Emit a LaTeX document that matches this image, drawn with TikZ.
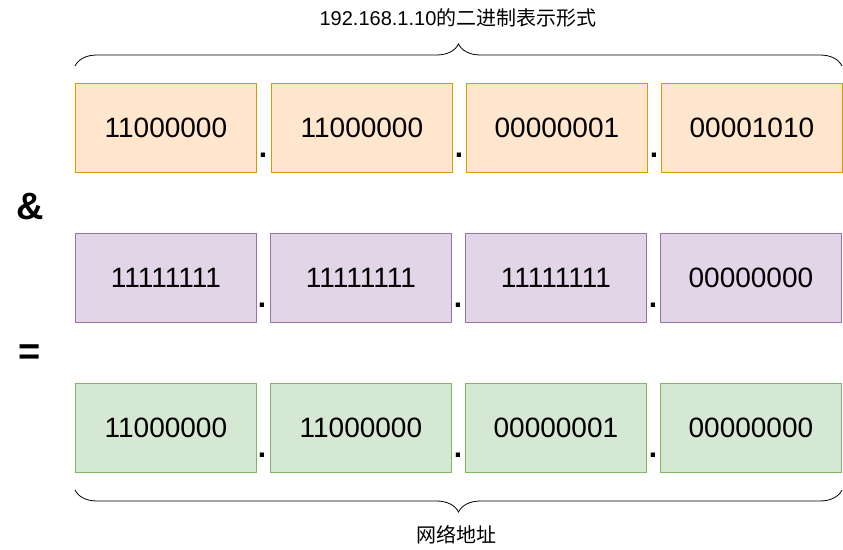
\documentclass[tikz,border=0pt]{standalone}
\usepackage{fontspec}
\setmainfont{Liberation Sans}
\newfontfamily\cjk{Noto Sans CJK SC}
\usetikzlibrary{decorations.pathreplacing}
\begin{document}
\begin{tikzpicture}[x=1pt,y=-1pt,
  cell/.style={draw=#1, line width=0.8pt, minimum width=181pt, minimum height=89pt, anchor=north west, inner sep=0pt, font=\fontsize{28}{32}\selectfont},
  dotmark/.style={font=\fontsize{30}{30}\selectfont\bfseries, inner sep=0pt},
  brace/.style={decorate, decoration={brace, amplitude=22pt, aspect=0.5}, line width=0.8pt}]
\useasboundingbox (0,0) rectangle (843,549);
\definecolor{oF}{HTML}{FFE6CC}\definecolor{oD}{HTML}{D79B00}
\definecolor{pF}{HTML}{E1D5E7}\definecolor{pD}{HTML}{9673A6}
\definecolor{gF}{HTML}{D5E8D4}\definecolor{gD}{HTML}{82B366}
% row 1
\node[cell=oD, fill=oF] (a1) at (75,83) {11000000};
\node[cell=oD, fill=oF] (a2) at (271,83) {11000000};
\node[cell=oD, fill=oF] (a3) at (466,83) {00000001};
\node[cell=oD, fill=oF] (a4) at (661,83) {00001010};
% row 2
\node[cell=pD, fill=pF] (b1) at (75,233) {11111111};
\node[cell=pD, fill=pF] (b2) at (270,233) {11111111};
\node[cell=pD, fill=pF] (b3) at (465,233) {11111111};
\node[cell=pD, fill=pF] (b4) at (660,233) {00000000};
% row 3
\node[cell=gD, fill=gF] (c1) at (75,383) {11000000};
\node[cell=gD, fill=gF] (c2) at (270,383) {11000000};
\node[cell=gD, fill=gF] (c3) at (465,383) {00000001};
\node[cell=gD, fill=gF] (c4) at (660,383) {00000000};
% dots
\foreach \x/\y/\n in {263/155/d1,459/155/d2,654/155/d3,262/305/d4,458/305/d5,653/305/d6,262/455/d7,458/455/d8,653/455/d9}
  \node[dotmark] (\n) at (\x,\y) {.};
\node[font=\fontsize{38}{38}\selectfont\bfseries] (amp) at (30,207) {\&};
\node[font=\fontsize{38}{38}\selectfont\bfseries] (eq) at (30,355) {=};
% braces
\coordinate (tl) at (75,66); \coordinate (tr) at (842,66);
\draw[brace] (tl) -- (tr);
\node[font=\fontsize{20}{22}\selectfont] (tt) at (458,18) {192.168.1.10{\cjk 的二进制表示形式}};
\coordinate (bl) at (75,490); \coordinate (br) at (842,490);
\draw[brace] (br) -- (bl);
\node[font=\fontsize{20}{22}\selectfont\cjk] (bt) at (456,535) {网络地址};
\end{tikzpicture}
\end{document}
